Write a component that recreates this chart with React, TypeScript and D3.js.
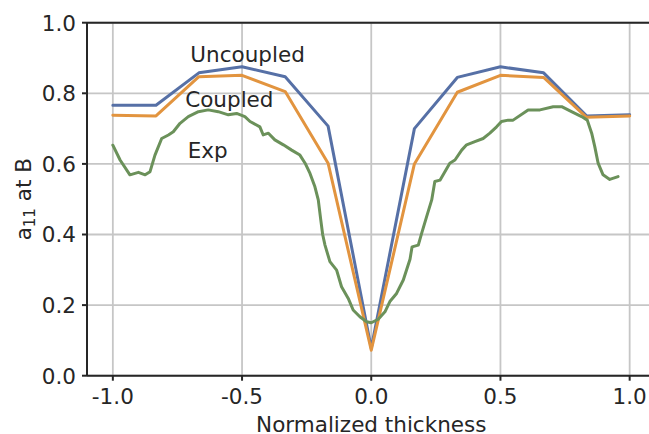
import * as d3 from "d3";
import { useEffect } from "react";

const W = 649;
const H = 434;

// model results at 13 thickness stations
const modelX = [-1, -0.833, -0.667, -0.5, -0.333, -0.167, 0, 0.167, 0.333, 0.5, 0.667, 0.833, 1];
const uncoupledY = [0.766, 0.766, 0.858, 0.875, 0.847, 0.707, 0.078, 0.7, 0.845, 0.875, 0.858, 0.736, 0.739];
const coupledY = [0.738, 0.736, 0.847, 0.851, 0.805, 0.602, 0.072, 0.6, 0.803, 0.851, 0.845, 0.732, 0.736];

// experimental trace
const expX = [
  -1.0, -0.972, -0.934, -0.901, -0.875, -0.856, -0.837, -0.811, -0.785, -0.766, -0.74, -0.708, -0.669,
  -0.631, -0.592, -0.553, -0.521, -0.489, -0.469, -0.431, -0.418, -0.398, -0.373, -0.34, -0.308, -0.276,
  -0.256, -0.237, -0.218, -0.205, -0.196, -0.188, -0.179, -0.16, -0.134, -0.115, -0.089, -0.07, -0.044,
  -0.018, 0.0, 0.027, 0.053, 0.072, 0.098, 0.124, 0.15, 0.158, 0.182, 0.195, 0.214, 0.234, 0.246, 0.266,
  0.285, 0.304, 0.324, 0.35, 0.369, 0.401, 0.433, 0.459, 0.485, 0.504, 0.53, 0.549, 0.607, 0.653, 0.704,
  0.737, 0.775, 0.814, 0.836, 0.853, 0.865, 0.878, 0.897, 0.923, 0.955,
];
const expY = [
  0.653, 0.611, 0.569, 0.576, 0.569, 0.578, 0.625, 0.672, 0.682, 0.691, 0.715, 0.734, 0.748,
  0.753, 0.748, 0.739, 0.743, 0.734, 0.72, 0.705, 0.682, 0.687, 0.668, 0.654, 0.639, 0.625,
  0.602, 0.573, 0.535, 0.498, 0.445, 0.4, 0.37, 0.323, 0.299, 0.252, 0.219, 0.186, 0.167,
  0.153, 0.15, 0.16, 0.181, 0.21, 0.233, 0.271, 0.33, 0.365, 0.37, 0.403, 0.45, 0.498, 0.55, 0.554,
  0.578, 0.602, 0.611, 0.639, 0.654, 0.663, 0.672, 0.687, 0.705, 0.72, 0.724, 0.724, 0.753, 0.753, 0.762,
  0.762, 0.748, 0.734, 0.724, 0.687, 0.649, 0.602, 0.569, 0.556, 0.564,
];

const xTicks = [-1, -0.5, 0, 0.5, 1];
const yTicks = [0, 0.2, 0.4, 0.6, 0.8, 1.0];

const seriesNames = ["Uncoupled", "Coupled", "Exp"];
const seriesColors = ["#5670a6", "#e2943f", "#6b915a"];
const labelPos = [
  { x: -0.7, y: 0.888 },
  { x: -0.72, y: 0.762 },
  { x: -0.71, y: 0.617 },
];

const FONT = "DejaVu Sans, sans-serif";
const FS = 21.5;
const INK = "#262626";

export default function App() {
  useEffect(() => {
    document.body.style.margin = "0";
  }, []);

  const left = 87;
  const right = 655.5;
  const top = 22.7;
  const bottom = 375.7;

  const x = d3.scaleLinear().domain([-1.1, 1.1]).range([left, right]);
  const y = d3.scaleLinear().domain([0, 1]).range([bottom, top]);

  const line = d3
    .line<[number, number]>()
    .x((d) => x(d[0]))
    .y((d) => y(d[1]));

  const series: [number, number][][] = [
    modelX.map((v, i) => [v, uncoupledY[i]]),
    modelX.map((v, i) => [v, coupledY[i]]),
    expX.map((v, i) => [v, expY[i]]),
  ];

  return (
    <svg
      width={W}
      height={H}
      style={{ position: "absolute", left: 0, top: 0, background: "#fff" }}
      fontFamily={FONT}
    >
      <rect x={0} y={0} width={W} height={H} fill="#fff" />

      {/* grid */}
      {xTicks.map((t) => (
        <line key={"gx" + t} x1={x(t)} x2={x(t)} y1={top} y2={bottom} stroke="#c6c6c6" strokeWidth={1.8} />
      ))}
      {yTicks.map((t) => (
        <line key={"gy" + t} x1={left} x2={right} y1={y(t)} y2={y(t)} stroke="#c6c6c6" strokeWidth={1.8} />
      ))}

      {/* series */}
      {series.map((pts, i) => (
        <path
          key={seriesNames[i]}
          d={line(pts) ?? ""}
          fill="none"
          stroke={seriesColors[i]}
          strokeWidth={3}
          strokeLinejoin="round"
          strokeLinecap="round"
        />
      ))}

      {/* annotations */}
      {seriesNames.map((n, i) => (
        <text key={"lab" + n} x={x(labelPos[i].x)} y={y(labelPos[i].y)} fontSize={FS} fill={INK}>
          {n}
        </text>
      ))}

      {/* spines */}
      <line x1={left} x2={left} y1={top} y2={bottom} stroke={INK} strokeWidth={2} />
      <line x1={left} x2={right} y1={bottom} y2={bottom} stroke={INK} strokeWidth={2} />
      <line x1={left} x2={right} y1={top} y2={top} stroke={INK} strokeWidth={2} />
      <line x1={right} x2={right} y1={top} y2={bottom} stroke={INK} strokeWidth={2} />

      {/* x ticks */}
      {xTicks.map((t) => (
        <g key={"xt" + t}>
          <line x1={x(t)} x2={x(t)} y1={bottom} y2={bottom + 5} stroke={INK} strokeWidth={2} />
          <text x={x(t)} y={404} textAnchor="middle" fontSize={FS} fill={INK}>
            {t.toFixed(1)}
          </text>
        </g>
      ))}

      {/* y ticks */}
      {yTicks.map((t) => (
        <g key={"yt" + t}>
          <line x1={left - 5} x2={left} y1={y(t)} y2={y(t)} stroke={INK} strokeWidth={2} />
          <text x={76} y={y(t) + 7.8} textAnchor="end" fontSize={FS} fill={INK}>
            {t.toFixed(1)}
          </text>
        </g>
      ))}

      {/* axis labels */}
      <text x={(left + right) / 2} y={432} textAnchor="middle" fontSize={FS} fill={INK}>
        Normalized thickness
      </text>
      <text
        transform={`translate(31,${(top + bottom) / 2}) rotate(-90)`}
        textAnchor="middle"
        fontSize={FS}
        fill={INK}
      >
        a
        <tspan fontSize={15} dy={4}>
          11
        </tspan>
        <tspan dy={-4}> at B</tspan>
      </text>
    </svg>
  );
}
